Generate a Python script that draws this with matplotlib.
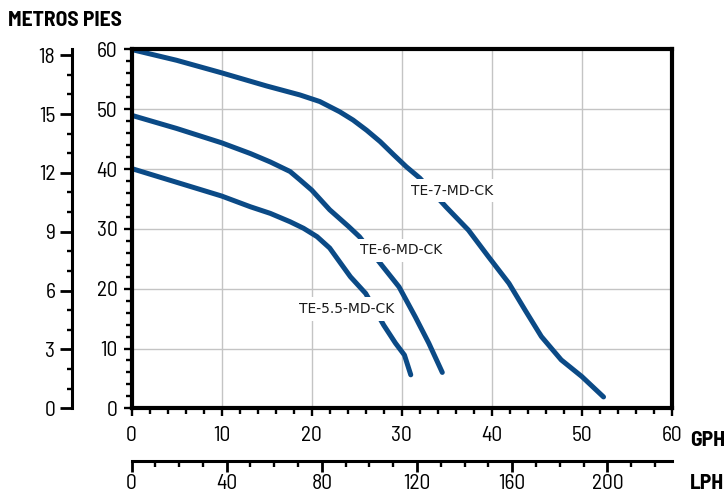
import matplotlib
matplotlib.use("Agg")
import matplotlib.pyplot as plt
from matplotlib import font_manager
from matplotlib.ticker import MultipleLocator

# ---------------- data ----------------
te7_gph = [0, 5, 10, 15, 18.7, 20.9, 23.1, 24.6, 26.1, 27.6, 29.1, 30.5, 32.0, 34.9, 37.4, 39.6, 41.9, 43.7, 45.5, 47.7, 50.0, 52.4]
te7_ft = [60.0, 58.2, 56.1, 53.9, 52.4, 51.3, 49.6, 48.2, 46.5, 44.6, 42.4, 40.4, 38.5, 33.7, 29.8, 25.4, 20.9, 16.4, 12.0, 8.1, 5.3, 1.9]

te6_gph = [0, 5, 10, 13.2, 15.4, 17.6, 18.7, 20, 22.0, 24.1, 25.3, 27.9, 29.7, 31.5, 33.0, 34.5]
te6_ft = [49.0, 46.8, 44.4, 42.6, 41.2, 39.6, 38.2, 36.5, 33.2, 30.4, 28.7, 23.7, 20.3, 15.3, 10.9, 6.0]

te55_gph = [0, 5, 10, 13.2, 15.4, 17.6, 19.1, 20.6, 22.0, 23.1, 24.3, 26.0, 28.0, 29.3, 30.3, 31.0]
te55_ft = [40.1, 37.8, 35.5, 33.7, 32.6, 31.2, 30.1, 28.7, 26.8, 24.5, 22.0, 19.2, 13.9, 10.9, 8.9, 5.6]

series_names = ["TE-7-MD-CK", "TE-6-MD-CK", "TE-5.5-MD-CK"]
label_pos = [(35.6, 36.4), (29.9, 26.4), (23.9, 16.6)]  # (gph, ft)

gph_max = 60
ft_max = 60
FT_PER_M = 3.28084
L_PER_GAL = 3.78541

# ---------------- fonts ----------------
avail = {f.name for f in font_manager.fontManager.ttflist}
narrow = "DejaVu Sans"
for cand in ["Barlow Semi Condensed", "Barlow", "Roboto Condensed", "Liberation Sans"]:
    if cand in avail:
        narrow = cand
        break
tick_fam = [narrow, "DejaVu Sans"]
TICK_FS = 15.5
BOLD_FS = 15.5

curve_color = "#0b4a86"

fig = plt.figure(figsize=(7.28, 4.94), dpi=100)
W, H = 728, 494
x0, x1 = 131.5, 672.0
ytop, ybot = 49.5, 408.3
rect = [x0 / W, 1 - ybot / H, (x1 - x0) / W, (ybot - ytop) / H]

ax = fig.add_axes(rect)
ax.set_xlim(0, gph_max)
ax.set_ylim(0, ft_max)
ax.xaxis.set_major_locator(MultipleLocator(10))
ax.xaxis.set_minor_locator(MultipleLocator(2))
ax.yaxis.set_major_locator(MultipleLocator(10))
ax.yaxis.set_minor_locator(MultipleLocator(2))
ax.grid(True, which="major", color="#c4c4c4", lw=1.0, zorder=0)
for s in ax.spines.values():
    s.set_linewidth(3.0)
    s.set_zorder(5)
ax.tick_params(which="major", direction="out", length=6, width=1.7, labelsize=TICK_FS, pad=4)
ax.tick_params(which="minor", direction="out", length=4, width=1.7)
ax.tick_params(axis="x", which="major", pad=7)
for lab in ax.get_xticklabels() + ax.get_yticklabels():
    lab.set_family(tick_fam)

for gx, fy in [(te7_gph, te7_ft), (te6_gph, te6_ft), (te55_gph, te55_ft)]:
    ax.plot(gx, fy, color=curve_color, lw=3.6, solid_capstyle="round",
            solid_joinstyle="round", zorder=3)

for name, (lx, ly) in zip(series_names, label_pos):
    ax.text(lx, ly, name, ha="center", va="center", fontsize=10,
            family="DejaVu Sans", color="#1a1a1a", zorder=4,
            bbox=dict(boxstyle="square,pad=0.35", fc="white", ec="none"))

# metres axis
axm = fig.add_axes(rect, frameon=True)
axm.patch.set_visible(False)
axm.set_ylim(0, ft_max / FT_PER_M)
axm.set_xlim(0, 1)
axm.set_xticks([])
for k in ["top", "right", "bottom"]:
    axm.spines[k].set_visible(False)
axm.spines["left"].set_position(("outward", (x0 - 72) * 0.72))
axm.spines["left"].set_linewidth(2.2)
axm.yaxis.set_major_locator(MultipleLocator(3))
axm.yaxis.set_minor_locator(MultipleLocator(1))
axm.tick_params(axis="y", which="major", direction="out", length=9, width=2.0, labelsize=TICK_FS, pad=3)
axm.tick_params(axis="y", which="minor", direction="out", length=3.5, width=1.7)
for lab in axm.get_yticklabels():
    lab.set_family(tick_fam)

# LPH axis
axl = fig.add_axes(rect, frameon=True)
axl.patch.set_visible(False)
axl.set_xlim(0, gph_max * L_PER_GAL)
axl.set_ylim(0, 1)
axl.set_yticks([])
for k in ["top", "right", "left"]:
    axl.spines[k].set_visible(False)
axl.spines["bottom"].set_position(("outward", (461 - ybot) * 0.72))
axl.spines["bottom"].set_linewidth(2.2)
axl.xaxis.set_major_locator(MultipleLocator(40))
axl.xaxis.set_minor_locator(MultipleLocator(10))
axl.tick_params(axis="x", which="major", direction="out", length=8, width=2.0, labelsize=TICK_FS, pad=1.5)
axl.tick_params(axis="x", which="minor", direction="out", length=4, width=1.7)
for lab in axl.get_xticklabels():
    lab.set_family(tick_fam)

fig.text(8 / W, 1 - 20 / H, "METROS PIES", fontsize=BOLD_FS, fontweight="bold",
         family=tick_fam, ha="left", va="center")
fig.text(690 / W, 1 - 440 / H, "GPH", fontsize=BOLD_FS, fontweight="bold",
         family=tick_fam, ha="left", va="center")
fig.text(690 / W, 1 - 483 / H, "LPH", fontsize=BOLD_FS, fontweight="bold",
         family=tick_fam, ha="left", va="center")

fig.savefig("out.png", dpi=100)
